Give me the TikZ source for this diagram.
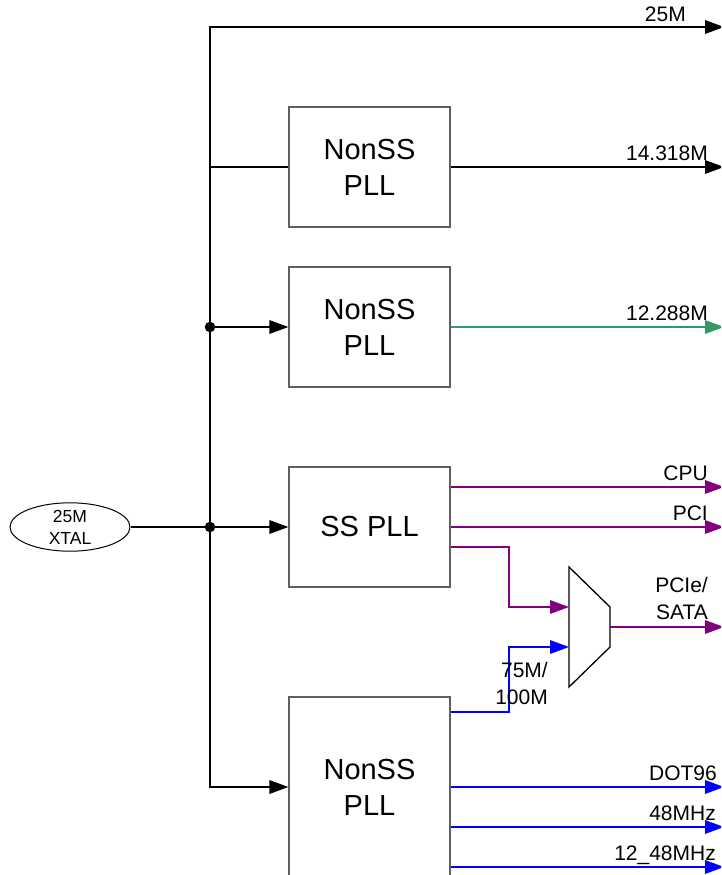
\documentclass[tikz,border=0pt]{standalone}
\usepackage{fontspec}
\setsansfont{Liberation Sans}
\usetikzlibrary{arrows.meta,shapes.geometric}
\definecolor{boxgrey}{RGB}{95,95,95}
\definecolor{clkgreen}{RGB}{51,153,102}
\definecolor{clkpurple}{RGB}{128,0,128}
\definecolor{clkblue}{RGB}{0,0,255}
\tikzset{
  base/.style={font=\sffamily, align=center, inner sep=0pt, text=black},
  pll/.style={base, rectangle, draw=boxgrey, fill=white, line width=1.2pt, minimum width=161pt, minimum height=120pt, font=\sffamily\fontsize{29}{36}\selectfont},
  osc/.style={base, ellipse, draw=black, line width=1pt, minimum width=120pt, minimum height=46pt, font=\sffamily\fontsize{17.5}{22}\selectfont},
  lbl/.style={base, anchor=base east, font=\sffamily\fontsize{21}{27}\selectfont},
  wire/.style={line width=1.8pt, draw=black},
  arr/.style={wire, -{Triangle[length=19pt,width=13.5pt]}},
  arr2/.style={wire, {Triangle[length=19pt,width=13.5pt]}-{Triangle[length=19pt,width=13.5pt]}},
  joint/.style={circle, fill=black, inner sep=0pt, minimum size=10.5pt},
}

\begin{document}
\begin{tikzpicture}[x=1pt,y=-1pt]
  \useasboundingbox (0,0) rectangle (721,875);
  \clip (0,0) rectangle (721,875);
  % blocks
  \node[osc] (xtal) at (70,527) {25M\\XTAL};
  \node[pll] (pllA) at (369.5,167) {NonSS\\PLL};
  \node[pll] (pllB) at (369.5,327) {NonSS\\PLL};
  \node[pll] (pllC) at (369.5,527) {SS PLL};
  \node[pll,minimum height=180pt] (pllD) at (369.5,787) {NonSS\\PLL};
  \coordinate (m1) at (569,567);
  \coordinate (m2) at (610,607);
  \coordinate (m3) at (610,647);
  \coordinate (m4) at (569,687);
  \draw[line width=1.3pt] (m1) -- (m2) -- (m3) -- (m4) -- cycle;
  \coordinate (muxin1) at (569,607);
  \coordinate (muxin2) at (569,647);
  \coordinate (muxout) at (610,627);
  % reference bus
  \coordinate (bus) at (210,27);
  \coordinate (o27) at (724,27);
  \draw[arr2] (o27) -- (bus) |- (pllD.west);
  \node[lbl] (l27) at (686,22) {25M};
  \draw[wire] (bus |- pllA.west) -- (pllA.west);
  \draw[arr] (bus |- pllB.west) -- (pllB.west);
  \draw[arr] (xtal.east) -- (pllC.west);
  \node[joint] (j1) at (bus |- pllB.west) {};
  \node[joint] (j2) at (bus |- pllC.west) {};
  % clock outputs
  \foreach \b/\y/\c/\t/\xr in {pllA/167/black/14.318M/708, pllB/327/clkgreen/12.288M/708,
                              pllC/487/clkpurple/CPU/708, pllC/527/clkpurple/PCI/708,
                              pllD/787/clkblue/DOT96/717, pllD/827/clkblue/48MHz/716,
                              pllD/867/clkblue/12\_48MHz/716}{
    \coordinate (o\y) at (724,\y);
    \draw[arr,draw=\c] (\b.east |- o\y) -- (o\y);
    \node[lbl] (l\y) at (\xr,{\y-6.5}) {\t};
  }
  % mux paths
  \draw[arr,draw=clkpurple] (pllC.east |- 0,547) -- (509,547) |- (muxin1);
  \draw[arr,draw=clkblue] (pllD.east |- 0,712) -- (509,712) |- (muxin2);
  \coordinate (o627) at (724,627);
  \draw[arr,draw=clkpurple] (muxout) -- (o627);
  \node[lbl,align=right,anchor=south east] (lmux) at (708,620) {PCIe/\\SATA};
  \node[lbl,align=right,anchor=south east] (l75) at (548,705) {75M/\\100M};
\end{tikzpicture}
\end{document}
